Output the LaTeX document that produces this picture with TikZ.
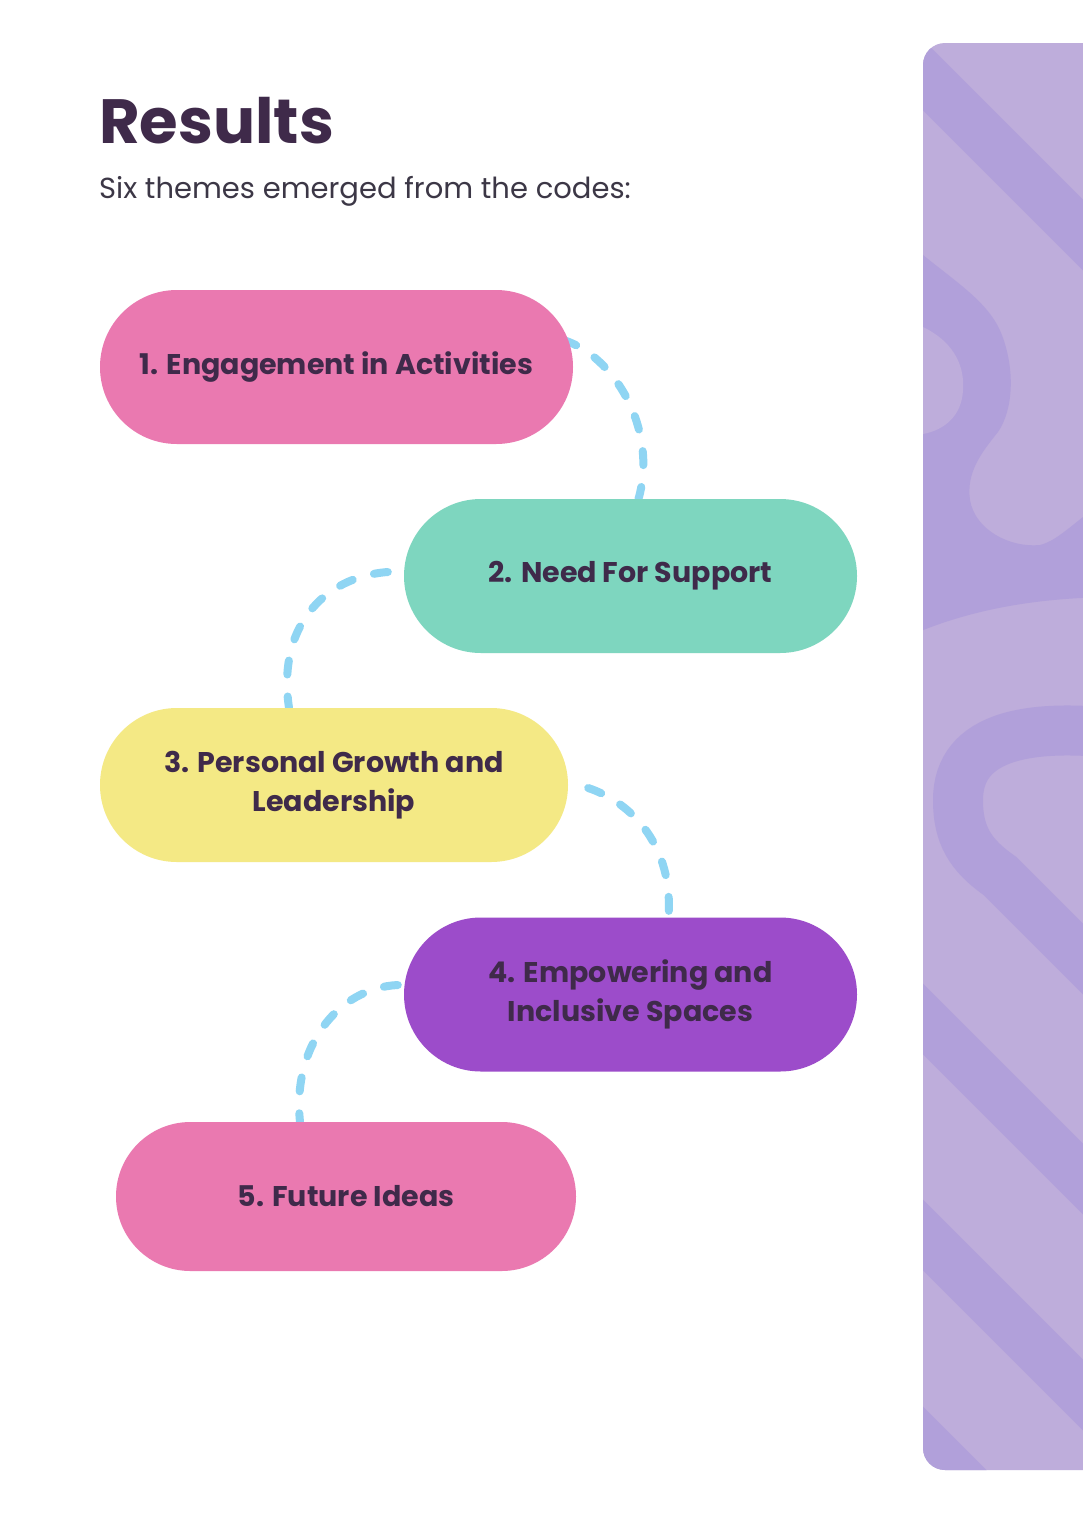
\documentclass[tikz,border=0pt]{standalone}
\usepackage{fontspec}
\setmainfont{Poppins}
\usetikzlibrary{backgrounds}
\definecolor{txt}{RGB}{63,42,74}
\definecolor{subtxt}{RGB}{60,55,70}
\definecolor{pinkpill}{RGB}{234,121,176}
\definecolor{tealpill}{RGB}{126,214,191}
\definecolor{yellowpill}{RGB}{244,233,133}
\definecolor{purplepill}{RGB}{156,76,202}
\definecolor{dashblue}{RGB}{143,213,243}
\definecolor{panellight}{RGB}{190,173,219}
\definecolor{paneldark}{RGB}{177,160,218}
\tikzset{
  pill/.style={rounded corners=76.9pt, minimum height=154pt, inner sep=0pt,
    align=center, text=txt, font=\fontsize{28.5}{39}\selectfont\bfseries},
  link/.style={draw=dashblue, line width=8pt, line cap=round, dash pattern=on 14pt off 22pt},
  band/.style={draw=paneldark, line width=50pt}
}
\begin{document}
\begin{tikzpicture}[x=1pt,y=-1pt]
\useasboundingbox (0,0) rectangle (1082,1531);
% pills
\node[pill, fill=pinkpill, minimum width=473pt] (p1) at (336.5,367) {\raisebox{-2pt}{1. Engagement in Activities}};
\node[pill, fill=tealpill, minimum width=453pt] (p2) at (630.5,576) {\raisebox{-2pt}{2. Need For Support}};
\node[pill, fill=yellowpill, minimum width=468pt] (p3) at (334,785) {3. Personal Growth and\\Leadership};
\node[pill, fill=purplepill, minimum width=453pt] (p4) at (630.5,994.5) {4. Empowering and\\Inclusive Spaces};
\node[pill, fill=pinkpill, minimum width=460pt, minimum height=149pt, rounded corners=74.4pt] (p5) at (346,1196.5) {\raisebox{-2pt}{5. Future Ideas}};
% title
\node[anchor=base west, inner sep=0pt, text=txt, font=\fontsize{62.5}{70}\selectfont\bfseries] (title) at (99,143) {Results};
\node[anchor=base west, inner sep=0pt, text=subtxt, font=\fontsize{29}{34}\selectfont] (sub) at (99,198) {Six themes emerged from the codes:};
\begin{pgfonlayer}{background}
\fill[white] (0,0) rectangle (1082,1531);
% side panel
\begin{scope}
\clip[rounded corners=22pt] (923,43) rectangle (1120,1470);
\fill[panellight] (900,0) rectangle (1120,1500);
\draw[band] (860,12) -- (1130,282);
\fill[paneldark] (900,232) -- (923,255) .. controls (960,285) and (992,305) .. (1003,338)
  .. controls (1015,372) and (1013,410) .. (998,432) .. controls (982,452) and (966,472) .. (970,500)
  .. controls (975,530) and (1010,548) .. (1040,545) .. controls (1060,540) and (1075,520) .. (1120,490)
  -- (1120,597) .. controls (1030,597) and (960,612) .. (900,640) -- cycle;
\fill[panellight] (900,322) -- (923,327) .. controls (950,340) and (965,362) .. (963,390)
  .. controls (962,415) and (945,430) .. (923,434) -- (900,440) -- cycle;
\draw[band] (1130,735) .. controls (1030,722) and (958,735) .. (958,800)
  .. controls (958,835) and (970,855) .. (1000,876) -- (1130,1006);
\draw[band] (880,976) -- (1140,1236);
\draw[band] (880,1192) -- (1140,1452);
\draw[band] (880,1399) -- (1140,1659);
\end{scope}
% connectors
\draw[link] ([shift={(-10pt,27pt)}]p1.east) .. controls +(50,15) and +(20,-70) .. ([xshift=8pt]p2.north);
\draw[link] ([shift={(-16pt,4pt)}]p2.west) .. controls +(-65,5) and +(-12,-80) .. ([xshift=-45pt]p3.north);
\draw[link] ([shift={(20pt,-3pt)}]p3.east) .. controls +(45,15) and +(5,-70) .. ([xshift=38pt]p4.north);
\draw[link] ([shift={(-6pt,9.5pt)}]p4.west) .. controls +(-60,3) and +(-8,-75) .. ([xshift=-46pt]p5.north);
\end{pgfonlayer}
\end{tikzpicture}
\end{document}
